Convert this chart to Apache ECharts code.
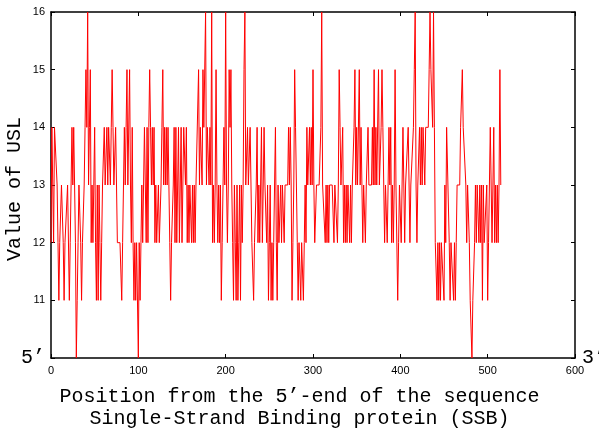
<!DOCTYPE html>
<html>
<head>
<meta charset="utf-8">
<script src="https://cdn.jsdelivr.net/npm/echarts@6/dist/echarts.min.js"></script>
<style>
html,body{margin:0;padding:0;background:#fff;}
#chart{width:599px;height:429px;}
</style>
</head>
<body>
<div id="chart"></div>
<script>
// USL value at each position from the 5'-end
const usl1 = [12,14,14,12,14,14,14,13,12,11,
  12,12,13,13,12,11,12,12,12,13,
  13,11,12,13,14,13,14,14,12,10,
  11,12,13,13,12,11,12,12,13,14,
  15,14,16,13,14,15,12,13,12,13,
  14,12,11,13,11,13,12,11,12,13,
  13,14,13,13,14,13,14,14,13,14,
  15,14,13,13,14,13,12,12,12,12,
  12,11,12,12,14,13,14,15,13,13,
  15,13,12,14,12,11,12,11,12,12,
  10,12,11,12,13,12,13,14,13,12,
  14];
const usl2 = [12,14,15,14,13,14,13,14,12,13,
  12,12,13,12,12,13,14,15,13,14,
  13,14,13,14,13,12,11,12,12,13,
  14,12,14,12,13,14,12,13,14,12,
  13,14,14,13,14,12,13,12,13,13,
  12,13,12,13,12,13,13,13,15,13,
  14,14,13,15,14,14,16,13,14,14,
  13,14,13,16,12,13,12,13,15,13,
  12,13,12,13,11,12,13,14,13,16,
  13,12,13,15,14,15,13,12,11,13,
  12,11,13,11,12,13,11,13,12,13,
  15,16,13];
const usl3 = [13,14,13,13,14,13,12,12,11,12,
  12,13,14,12,13,12,13,14,12,13,
  14,13,13,12,13,11,12,13,11,12,
  11,12,13,14,12,11,13,12,12,13,
  12,13,13,12,13,13,13,13,14,13,
  14,13,11,12,13,15,14,13,12,11,
  12,12,11,12,12,11,12,13,12,14,
  13,13,14,13,14,13,15,13,12,12,
  13,13,13,13,13,14,16,13,13,13,
  12,13,12,13,12,13,13,13,13,13,
  12,13,13,13,12,13,15,14,13,13,
  14,12];
const usl4 = [13,12,13,12,13,13,12,13,12,13,
  13,14,15,13,14,13,13,15,13,14,
  13,12,13,13,12,13,13,14,13,13,
  13,13,14,13,15,13,14,13,13,15,
  13,13,14,15,14,13,12,13,13,12,
  13,14,13,14,12,13,12,13,15,13,
  13,11,12,13,13,12,13,14,13,12,
  13,13,13,14,13,12,13,13,13,14,
  15,16,13,12,13,13,14,13,14,13,
  14,14,13,14,14,14,14,15,16,15,
  15,14,16,14,12,12,11,12,11,12,
  11];
const usl5 = [12,12,12,11,13,12,14,14,14,12,
  11,12,12,12,11,12,11,12,13,13,
  13,13,14,14,15,14,14,14,13,12,
  13,13,12,11,11,10,11,11,12,13,
  12,13,13,12,13,12,13,11,13,12,
  12,12,13,11,12,13,14,13,12,13,
  14,12,13,12,13,12,13,15,13];
const usl = [].concat(usl1, usl2, usl3, usl4, usl5);

const xTicks = [0, 100, 200, 300, 400, 500, 600];
const yTicks = [10, 11, 12, 13, 14, 15, 16];
const yEndLabelLeft = "5\u2019";
const yEndLabelRight = "3\u2019";
const xTitle1 = "Position from the 5\u2019-end of the sequence";
const xTitle2 = "Single-Strand Binding protein (SSB)";
const yTitle = "Value of USL";

const chart = echarts.init(document.getElementById('chart'), null, {renderer: 'canvas'});
const axisLine = {show: true, onZero: false, lineStyle: {color: '#000', width: 1.5}};
const tick = {show: true, inside: true, length: 4, lineStyle: {color: '#000', width: 1}};
const xMin = xTicks[0], xMax = xTicks[xTicks.length - 1];
const yMin = yTicks[0], yMax = yTicks[yTicks.length - 1];

chart.setOption({
  animation: false,
  backgroundColor: '#fff',
  grid: {left: 51, right: 24, top: 12, bottom: 71, containLabel: false, outerBoundsMode: 'none'},
  xAxis: [{
    type: 'value', min: xMin, max: xMax, interval: 100, position: 'bottom',
    axisLine: axisLine, axisTick: tick, splitLine: {show: false},
    axisLabel: {color: '#000', fontFamily: 'Liberation Sans', fontSize: 11, margin: 7}
  }, {
    type: 'value', min: xMin, max: xMax, interval: 100, position: 'top',
    axisLine: axisLine, axisTick: tick, splitLine: {show: false},
    axisLabel: {show: false}
  }],
  yAxis: [{
    type: 'value', min: yMin, max: yMax, interval: 1, position: 'left',
    axisLine: axisLine, axisTick: tick, splitLine: {show: false},
    axisLabel: {
      color: '#000', fontFamily: 'Liberation Sans', fontSize: 11, margin: 6,
      formatter: v => v === yMin ? '{p|' + yEndLabelLeft + '}' : String(v),
      rich: {p: {fontFamily: 'Liberation Mono', fontSize: 20, color: '#000'}}
    }
  }, {
    type: 'value', min: yMin, max: yMax, interval: 1, position: 'right',
    axisLine: axisLine, axisTick: tick, splitLine: {show: false},
    axisLabel: {
      color: '#000', fontFamily: 'Liberation Mono', fontSize: 20, margin: 7,
      formatter: v => v === yMin ? yEndLabelRight : ''
    }
  }],
  series: [{
    type: 'line',
    data: usl.map((v, i) => [i, v]),
    showSymbol: false,
    symbol: 'none',
    lineStyle: {color: '#ff0000', width: 1},
    xAxisIndex: 0, yAxisIndex: 0
  }],
  graphic: [
    {type: 'text', left: 'center', top: 387, style: {text: xTitle1, fontFamily: 'Liberation Mono', fontSize: 20, fill: '#000'}},
    {type: 'text', left: 'center', top: 409, style: {text: xTitle2, fontFamily: 'Liberation Mono', fontSize: 20, fill: '#000'}},
    {type: 'text', x: 5, y: 189, rotation: Math.PI / 2, style: {text: yTitle, fontFamily: 'Liberation Mono', fontSize: 20, fill: '#000', align: 'center', verticalAlign: 'top'}}
  ]
});
</script>
</body>
</html>
